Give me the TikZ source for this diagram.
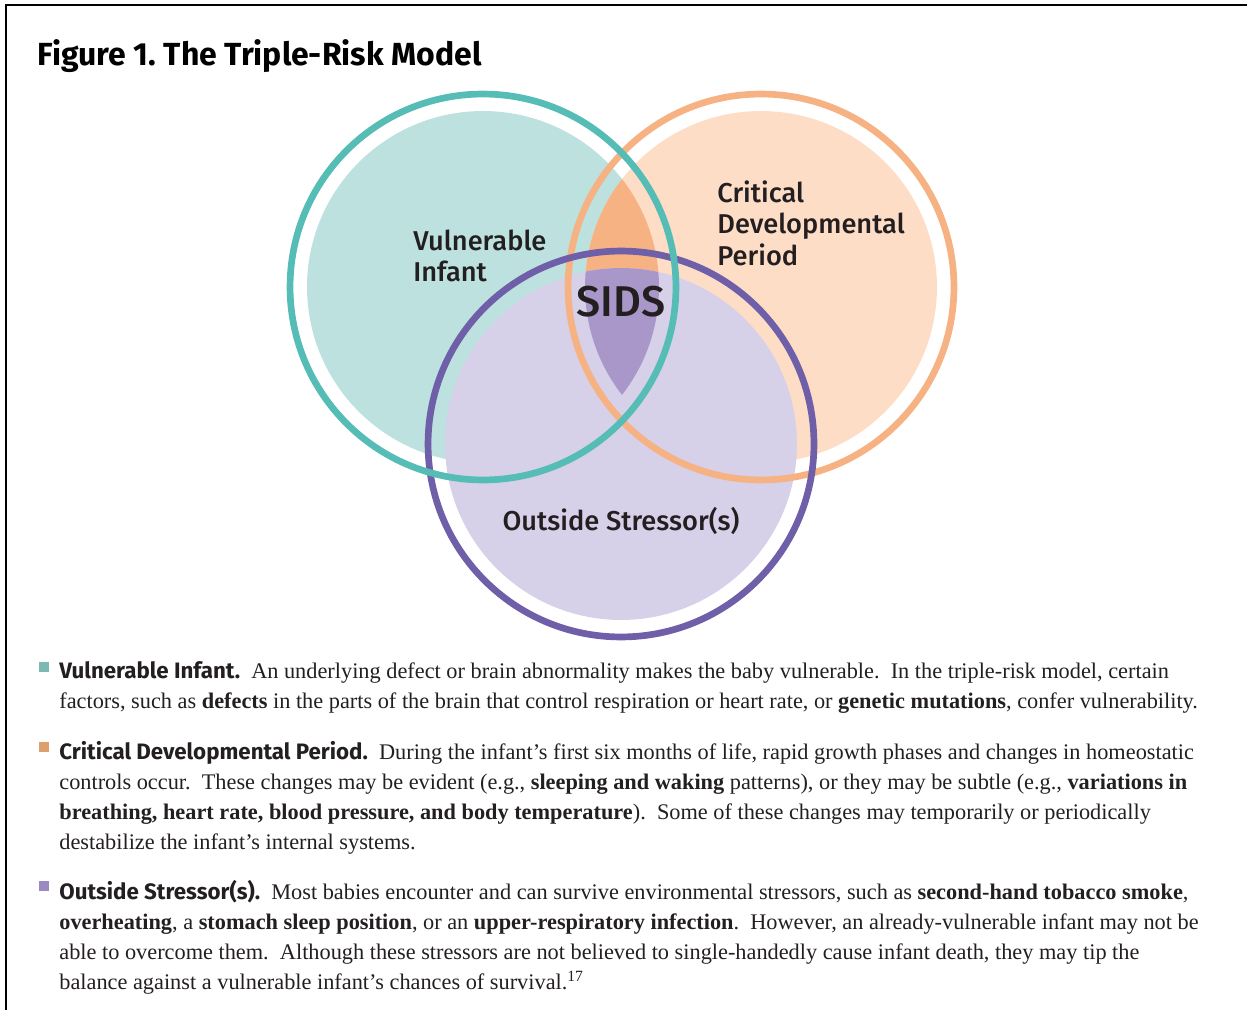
\documentclass[tikz,border=0pt]{standalone}
\usepackage{fontspec}
\setmainfont{Liberation Serif}
\newfontfamily\headfont{Fira Sans}
\newfontfamily\labelfont{Fira Sans Medium}

\definecolor{ink}{HTML}{231F20}
\definecolor{tealring}{HTML}{55BDB5}
\definecolor{tealfill}{HTML}{BCE1DE}
\definecolor{orangering}{HTML}{F6B282}
\definecolor{orangefill}{HTML}{FDDDC6}
\definecolor{orangelens}{HTML}{F6B283}
\definecolor{purplering}{HTML}{6F5EA8}
\definecolor{purplefill}{HTML}{D6D0E8}
\definecolor{purplelens}{HTML}{A897C8}
\definecolor{tealbul}{HTML}{7DB8B5}
\definecolor{orangebul}{HTML}{DC9F6E}
\definecolor{purplebul}{HTML}{9A8AC0}

\tikzset{
  ring/.style={line width=3.8pt},
  risklabel/.style={font=\labelfont\fontsize{15.5}{18}\selectfont, text=ink, align=left, inner sep=0pt},
  para/.style={font=\fontsize{12.7}{17}\selectfont, text=ink, align=left, inner sep=0pt, anchor=north west},
  bulletbox/.style={minimum size=5.6pt, inner sep=0pt, anchor=north west}
}

\begin{document}
\begin{tikzpicture}[x=0.02cm, y=-0.02cm]
\def\rring{3.86cm};
\def\rfill{3.52cm};

\useasboundingbox (0,0) rectangle (1247,1010);

% frame
\draw[line width=1.1pt] (6,1010) -- (6,5) -- (1247,5);

\node[anchor=west, font=\headfont\bfseries\fontsize{18.2}{21}\selectfont, inner sep=0pt] (title) at (37,56) {Figure 1.\ The Triple-Risk Model};

\coordinate (cv) at (483,287);
\coordinate (cc) at (761,287);
\coordinate (cs) at (621,444);

% fills
\fill[tealfill] (cv) circle (\rfill);
\fill[orangefill] (cc) circle (\rfill);
\begin{scope}
\clip (cv) circle (\rfill);
\fill[orangelens] (cc) circle (\rfill);
\end{scope}
\fill[purplefill] (cs) circle (\rfill);
\begin{scope}
\clip (cv) circle (\rfill);
\clip (cc) circle (\rfill);
\fill[purplelens] (cs) circle (\rfill);
\end{scope}

% rings
\draw[ring, orangering] (cc) circle (\rring);
\draw[ring, purplering] (cs) circle (\rring);
\draw[ring, tealring] (cv) circle (\rring);

\node[risklabel, anchor=west] (vuln) at (413,256) {Vulnerable\\Infant};
\node[risklabel, anchor=west] (crit) at (717,223) {Critical\\Developmental\\Period};
\node[risklabel, font=\labelfont\fontsize{24.5}{30}\selectfont] (sids) at (621,302) {SIDS};
\node[risklabel] (stress) at (621,521) {Outside Stressor(s)};

% key
\node[bulletbox, fill=tealbul] (bul1) at (39,662) {};
\node[para] (para1) at (59,661) {{\headfont\bfseries Vulnerable Infant.}\ \ An underlying defect or brain abnormality makes the baby vulnerable.\ \ In the triple-risk model, certain\\
factors, such as \textbf{defects} in the parts of the brain that control respiration or heart rate, or \textbf{genetic mutations}, confer vulnerability.};

\node[bulletbox, fill=orangebul] (bul2) at (39,742) {};
\node[para] (para2) at (59,741) {{\headfont\bfseries Critical Developmental Period.}\ \ During the infant's first six months of life, rapid growth phases and changes in homeostatic\\
controls occur.\ \ These changes may be evident (e.g., \textbf{sleeping and waking} patterns), or they may be subtle (e.g., \textbf{variations in}\\
\textbf{breathing, heart rate, blood pressure, and body temperature}).\ \ Some of these changes may temporarily or periodically\\
destabilize the infant's internal systems.};

\node[bulletbox, fill=purplebul] (bul3) at (39,881) {};
\node[para] (para3) at (59,880) {{\headfont\bfseries Outside Stressor(s).}\ \ Most babies encounter and can survive environmental stressors, such as \textbf{second-hand tobacco smoke},\\
\textbf{overheating}, a \textbf{stomach sleep position}, or an \textbf{upper-respiratory infection}.\ \ However, an already-vulnerable infant may not be\\
able to overcome them.\ \ Although these stressors are not believed to single-handedly cause infant death, they may tip the\\
balance against a vulnerable infant's chances of survival.\textsuperscript{17}};

\end{tikzpicture}
\end{document}
